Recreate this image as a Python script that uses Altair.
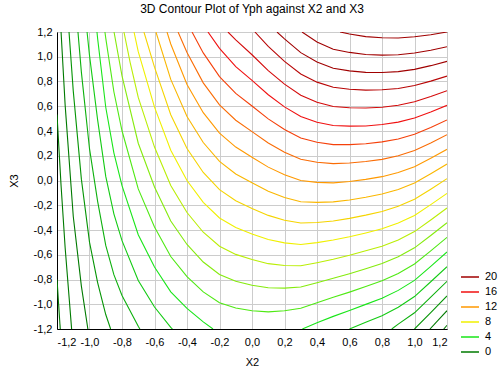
import altair as alt
import pandas as pd

title = "3D Contour Plot of Yph against X2 and X3"
tick_values = [-1.2, -1.0, -0.8, -0.6, -0.4, -0.2, 0.0, 0.2, 0.4, 0.6, 0.8, 1.0, 1.2]
legend_levels = [20, 16, 12, 8, 4, 0]
color_domain = [0, 4, 8, 12, 16, 20]
color_range = ["#007a00", "#19e619", "#f0f000", "#ff9900", "#f01010", "#a00000"]

# contour polylines: (X2, X3) vertices
c_m2 = [(-1.2, -0.8), (-1.18, -1.2)]
c_m1a = [(-1.2, 0.533), (-1.175, -0.04), (-1.15, -0.542), (-1.11, -1.2)]
c_m1b = [(1.18, -1.2), (1.2, -1.17)]
c_0a = [(-1.175, 1.2), (-1.15, 0.611), (-1.1, -0.289), (-1.05, -0.854), (-1.01, -1.2)]
c_0b = [(1.095, -1.2), (1.2, -1.052)]
c_1a = [(-1.126, 1.2), (-1.1, 0.724), (-1.05, 0.011), (-1.0, -0.498), (-0.95, -0.825),
        (-0.9, -1.083), (-0.87, -1.2)]
c_1b = [(1.0, -1.2), (1.1, -1.068), (1.2, -0.933)]
c_2a = [(-1.071, 1.2), (-1.05, 0.876), (-1.0, 0.257), (-0.95, -0.168), (-0.9, -0.525),
        (-0.85, -0.761), (-0.8, -0.929), (-0.7, -1.178), (-0.69, -1.2)]
c_2b = [(0.86, -1.2), (0.9, -1.161), (1.0, -1.069), (1.1, -0.943), (1.2, -0.815)]
c_3a = [(-1.015, 1.2), (-1.0, 1.011), (-0.95, 0.49), (-0.9, 0.033), (-0.85, -0.269),
        (-0.8, -0.486), (-0.7, -0.808), (-0.6, -1.022), (-0.5, -1.186), (-0.49, -1.2)]
c_3b = [(0.6, -1.2), (0.7, -1.145), (0.8, -1.092), (0.9, -1.024), (1.0, -0.938),
        (1.1, -0.818), (1.2, -0.696)]
c_4a = [(-0.954, 1.2), (-0.95, 1.147), (-0.9, 0.592), (-0.85, 0.224), (-0.8, -0.042),
        (-0.7, -0.438), (-0.6, -0.699), (-0.5, -0.9), (-0.4, -1.034), (-0.3, -1.142),
        (-0.24, -1.2)]
c_4b = [(0.31, -1.2), (0.4, -1.15), (0.5, -1.098), (0.6, -1.051), (0.7, -1.001),
        (0.8, -0.952), (0.9, -0.888), (1.0, -0.807), (1.1, -0.694), (1.2, -0.578)]
c_5 = [(-0.905, 1.2), (-0.9, 1.15), (-0.85, 0.717), (-0.8, 0.402), (-0.7, -0.068),
       (-0.6, -0.376), (-0.5, -0.614), (-0.4, -0.776), (-0.3, -0.9), (-0.2, -0.988),
       (-0.1, -1.031), (0.0, -1.053), (0.1, -1.062), (0.2, -1.053), (0.3, -1.033),
       (0.4, -0.988), (0.5, -0.944), (0.6, -0.902), (0.7, -0.857), (0.8, -0.811),
       (0.9, -0.752), (1.0, -0.675), (1.1, -0.569), (1.2, -0.459)]
c_6 = [(-0.849, 1.2), (-0.8, 0.845), (-0.7, 0.301), (-0.6, -0.053), (-0.5, -0.328),
       (-0.4, -0.517), (-0.3, -0.659), (-0.2, -0.759), (-0.1, -0.814), (0.0, -0.846),
       (0.1, -0.867), (0.2, -0.870), (0.3, -0.861), (0.4, -0.826), (0.5, -0.790),
       (0.6, -0.753), (0.7, -0.713), (0.8, -0.671), (0.9, -0.616), (1.0, -0.544),
       (1.1, -0.444), (1.2, -0.341)]
c_7 = [(-0.788, 1.2), (-0.75, 0.954), (-0.7, 0.671), (-0.6, 0.270), (-0.5, -0.041),
       (-0.4, -0.259), (-0.3, -0.418), (-0.2, -0.531), (-0.1, -0.597), (0.0, -0.639),
       (0.1, -0.672), (0.2, -0.687), (0.3, -0.689), (0.4, -0.664), (0.5, -0.636),
       (0.6, -0.604), (0.7, -0.568), (0.8, -0.531), (0.9, -0.480), (1.0, -0.413),
       (1.1, -0.319), (1.2, -0.222)]
c_8 = [(-0.726, 1.2), (-0.7, 1.041), (-0.6, 0.593), (-0.5, 0.245), (-0.4, 0.0),
       (-0.3, -0.176), (-0.2, -0.303), (-0.1, -0.380), (0.0, -0.432), (0.1, -0.477),
       (0.2, -0.504), (0.3, -0.517), (0.4, -0.502), (0.5, -0.481), (0.6, -0.455),
       (0.7, -0.424), (0.8, -0.390), (0.9, -0.344), (1.0, -0.282), (1.1, -0.195),
       (1.2, -0.104)]
c_9 = [(-0.665, 1.2), (-0.6, 0.916), (-0.5, 0.531), (-0.4, 0.259), (-0.3, 0.065),
       (-0.2, -0.074), (-0.1, -0.164), (0.0, -0.226), (0.1, -0.282), (0.2, -0.321),
       (0.3, -0.344), (0.4, -0.339), (0.5, -0.327), (0.6, -0.306), (0.7, -0.280),
       (0.8, -0.250), (0.9, -0.208), (1.0, -0.151), (1.1, -0.070), (1.2, 0.015)]
c_10 = [(-0.591, 1.2), (-0.5, 0.817), (-0.4, 0.517), (-0.3, 0.307), (-0.2, 0.154),
        (-0.1, 0.053), (0.0, -0.019), (0.1, -0.087), (0.2, -0.137), (0.3, -0.172),
        (0.4, -0.177), (0.5, -0.173), (0.6, -0.157), (0.7, -0.136), (0.8, -0.109),
        (0.9, -0.072), (1.0, -0.020), (1.1, 0.055), (1.2, 0.133)]
c_11 = [(-0.523, 1.2), (-0.5, 1.103), (-0.4, 0.776), (-0.3, 0.548), (-0.2, 0.383),
        (-0.1, 0.270), (0.0, 0.188), (0.1, 0.108), (0.2, 0.046), (0.3, 0.0),
        (0.4, -0.015), (0.5, -0.019), (0.6, -0.008), (0.7, 0.009), (0.8, 0.031),
        (0.9, 0.064), (1.0, 0.111), (1.1, 0.180), (1.2, 0.252)]
c_12 = [(-0.455, 1.2), (-0.4, 1.034), (-0.3, 0.789), (-0.2, 0.611), (-0.1, 0.487),
        (0.0, 0.395), (0.1, 0.303), (0.2, 0.229), (0.3, 0.172), (0.4, 0.147),
        (0.5, 0.136), (0.6, 0.141), (0.7, 0.153), (0.8, 0.171), (0.9, 0.2),
        (1.0, 0.243), (1.1, 0.304), (1.2, 0.370)]
c_13 = [(-0.369, 1.2), (-0.3, 1.031), (-0.2, 0.839), (-0.1, 0.704), (0.0, 0.602),
        (0.1, 0.498), (0.2, 0.412), (0.3, 0.344), (0.4, 0.309), (0.5, 0.290),
        (0.6, 0.290), (0.7, 0.297), (0.8, 0.312), (0.9, 0.336), (1.0, 0.374),
        (1.1, 0.429), (1.2, 0.489)]
c_14 = [(-0.271, 1.2), (-0.2, 1.068), (-0.1, 0.920), (0.0, 0.809), (0.1, 0.693),
        (0.2, 0.595), (0.3, 0.517), (0.4, 0.471), (0.5, 0.444), (0.6, 0.439),
        (0.7, 0.441), (0.8, 0.452), (0.9, 0.472), (1.0, 0.505), (1.1, 0.554),
        (1.2, 0.607)]
c_15 = [(-0.148, 1.2), (-0.1, 1.137), (0.0, 1.016), (0.1, 0.888), (0.2, 0.779),
        (0.3, 0.689), (0.4, 0.633), (0.5, 0.598), (0.6, 0.588), (0.7, 0.586),
        (0.8, 0.592), (0.9, 0.608), (1.0, 0.636), (1.1, 0.679), (1.2, 0.726)]
c_16 = [(0.018, 1.2), (0.1, 1.083), (0.2, 0.962), (0.3, 0.861), (0.4, 0.795),
        (0.5, 0.753), (0.6, 0.737), (0.7, 0.730), (0.8, 0.733), (0.9, 0.744),
        (1.0, 0.767), (1.1, 0.803), (1.2, 0.844)]
c_17 = [(0.154, 1.2), (0.2, 1.145), (0.3, 1.033), (0.4, 0.957), (0.5, 0.907),
        (0.6, 0.886), (0.7, 0.874), (0.8, 0.873), (0.9, 0.880), (1.0, 0.898),
        (1.1, 0.928), (1.2, 0.963)]
c_18 = [(0.308, 1.2), (0.4, 1.119), (0.5, 1.061), (0.6, 1.035), (0.7, 1.018),
        (0.8, 1.013), (0.9, 1.016), (1.0, 1.030), (1.1, 1.053), (1.2, 1.081)]
c_19 = [(0.542, 1.2), (0.6, 1.184), (0.7, 1.163), (0.8, 1.154), (0.9, 1.152),
        (1.0, 1.161), (1.1, 1.178), (1.2, 1.2)]

# estimated Yph value of each contour (drives its colour)
contour_values = {
    "c_m2": -2, "c_m1a": -1, "c_m1b": -1, "c_0a": 0, "c_0b": 0, "c_1a": 1, "c_1b": 1,
    "c_2a": 2, "c_2b": 2, "c_3a": 3, "c_3b": 3, "c_4a": 4, "c_4b": 4, "c_5": 5,
    "c_6": 6, "c_7": 7, "c_8": 8, "c_9": 9.3, "c_10": 10.6, "c_11": 12, "c_12": 13.3,
    "c_13": 14.6, "c_14": 16, "c_15": 17.4, "c_16": 18.8, "c_17": 20.2, "c_18": 21.6,
    "c_19": 23,
}
contours = {
    "c_m2": c_m2, "c_m1a": c_m1a, "c_m1b": c_m1b, "c_0a": c_0a, "c_0b": c_0b,
    "c_1a": c_1a, "c_1b": c_1b, "c_2a": c_2a, "c_2b": c_2b, "c_3a": c_3a, "c_3b": c_3b,
    "c_4a": c_4a, "c_4b": c_4b, "c_5": c_5, "c_6": c_6, "c_7": c_7, "c_8": c_8,
    "c_9": c_9, "c_10": c_10, "c_11": c_11, "c_12": c_12, "c_13": c_13, "c_14": c_14,
    "c_15": c_15, "c_16": c_16, "c_17": c_17, "c_18": c_18, "c_19": c_19,
}

recs = []
for name, pts in contours.items():
    for k, (x2, x3) in enumerate(pts):
        recs.append({"x2": x2, "x3": x3, "piece": name, "k": k, "level": contour_values[name]})
df = pd.DataFrame(recs)

label_expr = "replace(replace(format(datum.value, '.1f'), '.', ','), '\u2212', '-')"


def ax(t, tp, lp):
    return alt.Axis(values=tick_values, labelExpr=label_expr, title=t,
                    grid=True, gridColor="#cccccc", gridWidth=1, ticks=False,
                    domainColor="#000", labelFontSize=11, titleFontSize=11,
                    titleFontWeight="normal", labelColor="#000", titleColor="#000",
                    labelFont="Liberation Sans", titleFont="Liberation Sans",
                    titlePadding=tp, labelPadding=lp)


chart = alt.Chart(df).mark_line(strokeWidth=1.1, clip=True).encode(
    x=alt.X("x2:Q", scale=alt.Scale(domain=[-1.2, 1.2], nice=False, zero=False), axis=ax("X2", 9, 7)),
    y=alt.Y("x3:Q", scale=alt.Scale(domain=[-1.2, 1.2], nice=False, zero=False), axis=ax("X3", 14, 5)),
    color=alt.Color("level:Q",
                    scale=alt.Scale(domain=color_domain, range=color_range, clamp=True, interpolate="rgb"),
                    legend=alt.Legend(type="symbol", values=legend_levels, symbolType="M-1.8,0L1.8,0",
                                      title=None, orient="none", legendX=407, legendY=239, padding=0,
                                      symbolSize=100, symbolStrokeWidth=1.5, labelFontSize=11,
                                      labelOffset=9, labelFont="Liberation Sans", labelColor="#000",
                                      rowPadding=4)),
    detail="piece:N",
    order="k:Q",
).properties(
    width=390, height=297,
    title=alt.TitleParams(title, fontSize=12, fontWeight="normal", font="Liberation Sans",
                          anchor="middle", offset=10, color="#000"),
    autosize=alt.AutoSizeParams(type="none"),
    padding={"left": 57, "top": 32, "right": 55, "bottom": 41},
).configure_view(stroke="#000", strokeWidth=1)

chart.save("out.html", embed_options={"renderer": "svg", "actions": False})
